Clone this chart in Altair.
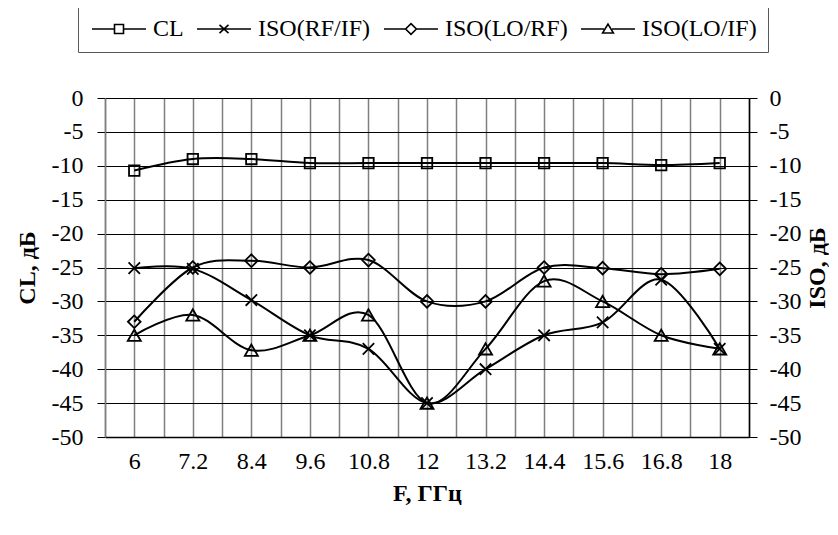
import altair as alt
import pandas as pd

# ---- data ----
freq = [6, 7.2, 8.4, 9.6, 10.8, 12, 13.2, 14.4, 15.6, 16.8, 18]
cl = [-10.7, -9.0, -9.0, -9.6, -9.6, -9.6, -9.6, -9.6, -9.6, -9.9, -9.6]
iso_rf_if = [-25.1, -25.2, -29.8, -35.0, -37.0, -45.0, -40.0, -35.0, -33.1, -26.8, -37.0]
iso_lo_rf = [-33.0, -25.0, -24.0, -25.0, -23.9, -30.0, -30.0, -25.0, -25.1, -26.0, -25.2]
iso_lo_if = [-35.0, -32.0, -37.2, -35.0, -32.0, -45.0, -37.0, -27.0, -30.0, -35.0, -37.0]
series_names = ["CL", "ISO(RF/IF)", "ISO(LO/RF)", "ISO(LO/IF)"]
y_ticks = list(range(-50, 1, 5))
x_ticks = [round(5.4 + 0.6 * i, 1) for i in range(23)]

rows = []
for name, vals in zip(series_names, [cl, iso_rf_if, iso_lo_rf, iso_lo_if]):
    for f, v in zip(freq, vals):
        rows.append({"F": f, "value": v, "series": name})
df = pd.DataFrame(rows)
cl_df = df[df.series == "CL"]
iso_df = df[df.series != "CL"]

FONT = "Liberation Serif"
CROSS = "M-1,-1L1,1M-1,1L1,-1"

legend_paths = [
    "M-3,0H-0.5M0.5,0H3M-0.5,-0.5H0.5V0.5H-0.5Z",
    "M-3,0H3M-0.5,-0.45L0.5,0.45M-0.5,0.45L0.5,-0.45",
    "M-3,0H-0.6M0.6,0H3M0,-0.6L0.6,0L0,0.6L-0.6,0Z",
    "M-3,0H-0.45M0.45,0H3M0,-0.55L0.6,0.45H-0.6Z",
]

x_enc = alt.X(
    "F:Q",
    scale=alt.Scale(domain=[5.4, 18.6], nice=False, zero=False),
    axis=alt.Axis(
        values=x_ticks,
        labelExpr="round(datum.value*10) % 12 == 0 ? '' + datum.value : ''",
        grid=True, gridColor="#7f7f7f", gridWidth=1.5,
        ticks=False, domainColor="black", domainWidth=1.5,
        labelFont=FONT, labelFontSize=24, labelColor="black", labelPadding=12,
        labelFlush=False, labelOverlap=False,
        title="F, ГГц", titleFont=FONT, titleFontSize=24, titleFontWeight="bold",
        titleColor="black", titlePadding=8,
    ),
)

y_scale = alt.Scale(domain=[-50, 0], nice=False, zero=False)

y_left = alt.Y(
    "value:Q", scale=y_scale,
    axis=alt.Axis(
        orient="left", values=y_ticks, labelExpr="'' + datum.value",
        grid=True, gridColor="black", gridWidth=1,
        tickSize=8, tickColor="black", domainColor="#7f7f7f", domainWidth=1.5,
        labelFont=FONT, labelFontSize=24, labelColor="black", labelPadding=14,
        labelFlush=False, labelOverlap=False,
        title="CL, дБ", titleFont=FONT, titleFontSize=24, titleFontWeight="bold",
        titleColor="black", titlePadding=12,
    ),
)

y_right = alt.Y(
    "value:Q", scale=y_scale,
    axis=alt.Axis(
        orient="right", values=y_ticks, labelExpr="'' + datum.value",
        grid=False, tickSize=8, tickColor="black", domainColor="black", domainWidth=1.5,
        labelFont=FONT, labelFontSize=24, labelColor="black", labelPadding=12,
        labelFlush=False, labelOverlap=False,
        title="ISO, дБ", titleFont=FONT, titleFontSize=24, titleFontWeight="bold",
        titleColor="black", titlePadding=5, titleAngle=270, titleBaseline="top",
    ),
)

line_kw = dict(color="black", strokeWidth=2, interpolate="cardinal")
pt_kw = dict(color="black", filled=False, strokeWidth=1.8, opacity=1)

cl_line = alt.Chart(cl_df).mark_line(**line_kw).encode(x=x_enc, y=y_left)
cl_pts = alt.Chart(cl_df).mark_point(shape="square", size=110, **pt_kw).encode(x=x_enc, y=y_left)
layer_a = alt.layer(cl_line, cl_pts)

iso_line = alt.Chart(iso_df).mark_line(**line_kw).encode(x=x_enc, y=y_right, detail="series:N")
p_rf_if = alt.Chart(df[df.series == "ISO(RF/IF)"]).mark_point(shape=CROSS, size=130, **pt_kw).encode(x=x_enc, y=y_right)
p_lo_rf = alt.Chart(df[df.series == "ISO(LO/RF)"]).mark_point(shape="diamond", size=160, **pt_kw).encode(x=x_enc, y=y_right)
p_lo_if = alt.Chart(df[df.series == "ISO(LO/IF)"]).mark_point(shape="triangle-up", size=170, **pt_kw).encode(x=x_enc, y=y_right)

legend_layer = alt.Chart(df).mark_point(opacity=0, color="black").encode(
    x=x_enc, y=y_right,
    shape=alt.Shape(
        "series:N",
        scale=alt.Scale(domain=series_names, range=legend_paths),
        legend=alt.Legend(
            title=None, orient="none", legendX=-27, legendY=-92, direction="horizontal",
            symbolSize=324, symbolOffset=18, labelOffset=22, columnPadding=9, padding=11,
            strokeColor="#595959", labelFont=FONT, labelFontSize=24, labelColor="black",
            symbolStrokeColor="black", symbolFillColor="white", symbolStrokeWidth=1.6,
            symbolOpacity=1, labelLimit=0,
        ),
    ),
)
layer_b = alt.layer(iso_line, p_rf_if, p_lo_rf, p_lo_if, legend_layer)

chart = (
    alt.layer(layer_a, layer_b)
    .resolve_scale(y="independent")
    .properties(
        width=644, height=339,
        padding={"left": 97, "top": 90, "right": 80, "bottom": 85},
        autosize=alt.AutoSizeParams(type="none"),
        background="white",
    )
    .configure_view(stroke=None)
)

chart.save("out.html", embed_options={"renderer": "svg", "actions": False})
